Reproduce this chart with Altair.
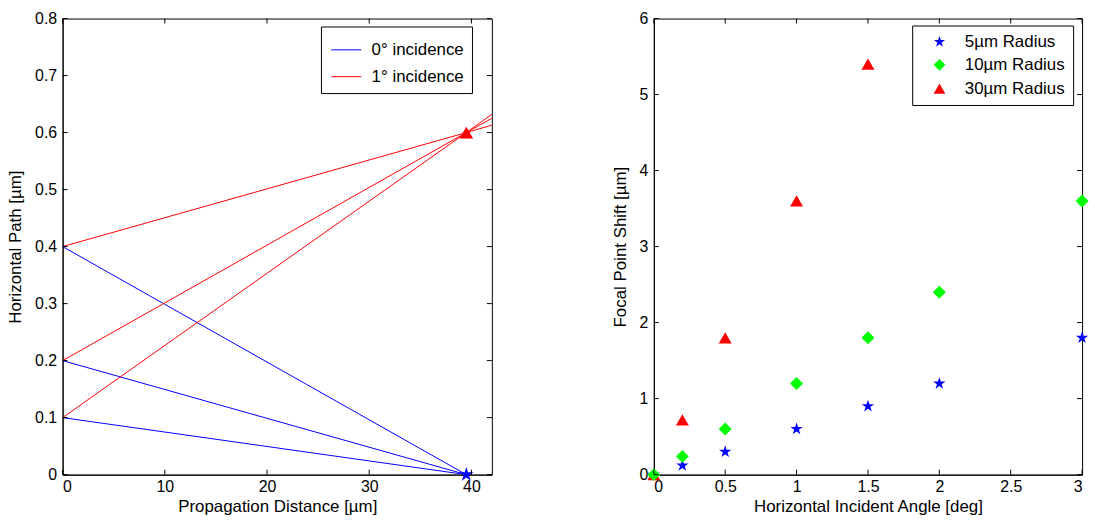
import altair as alt
import pandas as pd

# ---------------- data: left panel ----------------
ray_start_y = [0.4, 0.2, 0.1]
focus_x = 39.5
blue_focus_y = 0.0
red_focus_y = 0.6
red_end_x = 42.0
red_end_y = [0.613, 0.625, 0.632]
left_x_ticks = [0, 10, 20, 30, 40]
left_y_ticks = [0, 0.1, 0.2, 0.3, 0.4, 0.5, 0.6, 0.7, 0.8]
inc_labels = ["0° incidence", "1° incidence"]

# ---------------- data: right panel ----------------
angles = [0, 0.2, 0.5, 1, 1.5, 2, 3]
shift_5 = [0, 0.12, 0.3, 0.6, 0.9, 1.2, 1.8]
shift_10 = [0, 0.24, 0.6, 1.2, 1.8, 2.4, 3.6]
shift_30 = [0, 0.72, 1.8, 3.6, 5.4]
radius_labels = ["5µm Radius", "10µm Radius", "30µm Radius"]
right_x_ticks = [0, 0.5, 1, 1.5, 2, 2.5, 3]
right_y_ticks = [0, 1, 2, 3, 4, 5, 6]

BLUE = "#0000FF"
RED = "#FF0000"
GREEN = "#00FF00"
STAR = "M0,-1L0.225,-0.309L0.951,-0.309L0.363,0.118L0.588,0.809L0,0.382L-0.588,0.809L-0.363,0.118L-0.951,-0.309L-0.225,-0.309Z"

W1, W2, H = 432, 431, 459
TICK = 5
LFS = 16   # tick labels
TFS = 17   # axis titles
GFS = 17   # legend labels

rows = []
for i, y0 in enumerate(ray_start_y):
    rows.append({"x": 0, "y": y0, "ray": f"b{i}", "inc": inc_labels[0], "o": 0})
    rows.append({"x": focus_x, "y": blue_focus_y, "ray": f"b{i}", "inc": inc_labels[0], "o": 1})
for i, y0 in enumerate(ray_start_y):
    rows.append({"x": 0, "y": y0, "ray": f"r{i}", "inc": inc_labels[1], "o": 0})
    rows.append({"x": focus_x, "y": red_focus_y, "ray": f"r{i}", "inc": inc_labels[1], "o": 1})
    rows.append({"x": red_end_x, "y": red_end_y[i], "ray": f"r{i}", "inc": inc_labels[1], "o": 2})
rays = pd.DataFrame(rows)

blue_focus = pd.DataFrame({"x": [focus_x], "y": [blue_focus_y]})
red_focus = pd.DataFrame({"x": [focus_x], "y": [red_focus_y]})

pts = []
for lab, vals in zip(radius_labels, [shift_5, shift_10, shift_30]):
    for a, v in zip(angles, vals):
        pts.append({"a": a, "s": v, "r": lab})
shifts = pd.DataFrame(pts)

# shared scales / encodings
lx = alt.Scale(domain=[0, 42], nice=False, zero=False)
ly = alt.Scale(domain=[0, 0.8], nice=False, zero=False)
rx = alt.Scale(domain=[0, 3], nice=False, zero=False)
ry = alt.Scale(domain=[0, 6], nice=False, zero=False)


def LX(f):
    return alt.X(f, scale=lx, title="Propagation Distance [µm]",
                 axis=alt.Axis(values=left_x_ticks, format="~r"))


def LY(f):
    return alt.Y(f, scale=ly, title="Horizontal Path [µm]",
                 axis=alt.Axis(values=left_y_ticks, format="~r"))


def RX(f):
    return alt.X(f, scale=rx, title="Horizontal Incident Angle [deg]",
                 axis=alt.Axis(values=right_x_ticks, format="~r"))


def RY(f):
    return alt.Y(f, scale=ry, title="Focal Point Shift [µm]",
                 axis=alt.Axis(values=right_y_ticks, format="~r"))


def inward_ticks(xticks, yticks, XE, YE, w, h):
    dx = pd.DataFrame({"tv": xticks})
    dy = pd.DataFrame({"tv": yticks})
    xb = alt.Chart(dx).mark_rule(color="black", strokeWidth=1).encode(
        x=XE("tv:Q"), y=alt.value(h), y2=alt.value(h - TICK))
    xt = alt.Chart(dx).mark_rule(color="black", strokeWidth=1).encode(
        x=XE("tv:Q"), y=alt.value(0), y2=alt.value(TICK))
    yl = alt.Chart(dy).mark_rule(color="black", strokeWidth=1).encode(
        y=YE("tv:Q"), x=alt.value(0), x2=alt.value(TICK))
    yr = alt.Chart(dy).mark_rule(color="black", strokeWidth=1).encode(
        y=YE("tv:Q"), x=alt.value(w), x2=alt.value(w - TICK))
    return [xb, xt, yl, yr]


# ---------------- left panel ----------------
lines = alt.Chart(rays).mark_line(clip=True, strokeWidth=1).encode(
    x=LX("x:Q"),
    y=LY("y:Q"),
    color=alt.Color("inc:N", scale=alt.Scale(domain=inc_labels, range=[BLUE, RED]),
                    legend=alt.Legend(title=None, orient="none", legendX=260, legendY=8,
                                      symbolType="stroke", symbolSize=900,
                                      symbolStrokeWidth=1, rowPadding=3,
                                      symbolOffset=2,
                                      strokeColor="black", fillColor="white",
                                      padding=8, labelFontSize=GFS, labelOffset=10)),
    detail="ray:N",
    order="o:Q",
)

star_pt = alt.Chart(blue_focus).mark_point(
    filled=True, opacity=1, size=230, shape=STAR, color=BLUE).encode(
    x=LX("x:Q"), y=LY("y:Q"))
tri_pt = alt.Chart(red_focus).mark_point(
    filled=True, opacity=1, size=190, shape="triangle-up", color=RED).encode(
    x=LX("x:Q"), y=LY("y:Q"))

left = alt.layer(lines, star_pt, tri_pt,
                 *inward_ticks(left_x_ticks, left_y_ticks, LX, LY, W1, H)).properties(
    width=W1, height=H)

# ---------------- right panel ----------------
markers = alt.Chart(shifts).mark_point(filled=True, opacity=1, size=170).encode(
    x=RX("a:Q"),
    y=RY("s:Q"),
    color=alt.Color("r:N", scale=alt.Scale(domain=radius_labels, range=[BLUE, GREEN, RED]),
                    legend=alt.Legend(title=None, orient="none", legendX=260, legendY=7,
                                      strokeColor="black", fillColor="white",
                                      padding=8, labelFontSize=GFS, rowPadding=5,
                                      symbolOffset=11,
                                      symbolSize=140, labelOffset=17, symbolOpacity=1)),
    shape=alt.Shape("r:N", scale=alt.Scale(domain=radius_labels,
                                           range=[STAR, "diamond", "triangle-up"])),
    order=alt.Order("r:N", sort="descending"),
)

right = alt.layer(markers,
                  *inward_ticks(right_x_ticks, right_y_ticks, RX, RY, W2, H)).properties(
    width=W2, height=H)

chart = alt.hconcat(left, right, spacing=118).resolve_scale(
    color="independent", shape="independent",
    x="independent", y="independent"
).resolve_legend(color="independent", shape="independent").properties(
    padding={"left": 6, "top": 8, "right": 5, "bottom": 5}
).configure(font="Liberation Sans").configure_axis(
    labelFont="Liberation Sans", titleFont="Liberation Sans",
    labelFontSize=LFS, titleFontSize=TFS, titleFontWeight="normal",
    labelColor="black", titleColor="black", domainColor="black",
    tickSize=0, grid=False, labelPadding=6, titlePadding=10,
).configure_axisX(labelPadding=4, titlePadding=4).configure_legend(
    labelFont="Liberation Sans", labelColor="black"
).configure_view(stroke="black", strokeWidth=1)

chart.save("out.html", embed_options={"renderer": "svg", "actions": False})
